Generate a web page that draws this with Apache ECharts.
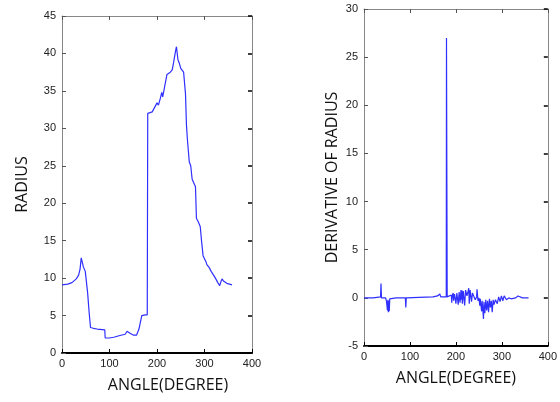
<!doctype html>
<html>
<head>
<meta charset="UTF-8">
<title>Radius and derivative</title>
<script src="https://cdn.jsdelivr.net/npm/echarts@6/dist/echarts.min.js"></script>
<style>
  html, body { margin: 0; padding: 0; background: #fff; }
  #main { width: 560px; height: 402px; }
</style>
</head>
<body>
<div id="main"></div>
<script>
// radius vs angle
var radiusData = [
  [0, 9.1], [12, 9.2], [21, 9.4], [30, 9.9], [35, 10.4], [38, 11.2], [40.5, 12.7],
  [45, 11.5], [49, 10.9], [52, 10.7], [54, 8], [57, 5.5], [60, 3.4], [66, 3.3],
  [74, 3.2], [90, 3.1], [91, 2.0], [100, 2.0], [109, 2.1], [120, 2.3], [133, 2.5],
  [137, 2.9], [144, 2.6], [150, 2.4], [157, 2.4], [162, 3.2], [168, 5.0], [175, 5.1],
  [179.5, 5.1], [180.5, 32], [190, 32.2], [195, 32.8], [198, 32.6], [200, 33.4],
  [203, 33.1], [207, 34.0], [210, 34.8], [212, 34.2], [215, 34.3], [218, 36.2],
  [221, 37.2], [224, 37.0], [228, 37.5], [232, 37.8], [235, 38.8], [239, 40.3],
  [241, 40.9], [244, 39.2], [247, 38.7], [250, 38.0], [253, 38.2], [256, 37.5],
  [260, 34.6], [262, 30.5], [264, 28.5], [268, 25.5], [271, 25.0], [274, 23.2],
  [277, 23.0], [281, 22.2], [283, 18.0], [287, 17.5], [291, 16.9], [294, 14.8],
  [297, 13.0], [300, 12.9], [303, 12.2], [305, 11.8], [307, 12.0], [310, 11.4],
  [314, 10.9], [319, 10.4], [323, 10.0], [328, 9.4], [332, 9.0], [335, 9.6],
  [337, 9.9], [340, 9.6], [347, 9.3], [358, 9.1]
];

// derivative of radius vs angle
var derivData = [
  [0, 0], [20, 0], [36, 0.1], [37, 1.5], [38, 0], [40, 0.1], [47, 0], [49, -0.4],
  [51, -1.3], [52, -0.2], [53, -1.5], [54, -0.3], [55, -1.4], [56, -0.1], [58, -0.1],
  [70, 0], [90, 0], [91, -1.0], [92, 0], [120, 0.05], [150, 0.1], [160, 0.2],
  [165, 0.4], [167, 0.1], [170, 0.2], [179, 0.1], [179.5, 27], [180.5, 27], [181, 0.1], [185, 0],
  [190, 0.3], [191, -0.5], [192, 0.2], [194, 0.5], [195, -0.3], [197, 0.4], [199, 0.6],
  [200, -0.6], [202, 0.5], [204, 0.7], [205, -0.7], [207, 0.6], [208, 0.7], [209, -0.5],
  [211, 0.8], [212, -0.2], [213, 0.8], [214, -0.6], [216, 0.7], [218, 0.9], [219, -0.8],
  [221, 0.8], [223, 0.9], [224, 0.2], [226, 0.6], [228, 1.0], [229, -0.6], [231, 0.8],
  [233, 1.0], [234, -0.4], [236, 0.5], [238, 0.3], [242, -0.2], [245, 0.1], [246, 0.9],
  [248, -0.3], [250, 0], [252, -0.8], [253, -0.1], [255, -1.0], [256, -1.4], [257, -0.3],
  [259, -1.5], [260, -2.2], [261, -0.4], [263, -1.6], [264, -1.8], [265, -0.2],
  [267, -1.3], [268, -1.5], [269, -0.3], [271, -1.5], [272, -1.7], [273, -0.1],
  [275, -1.0], [276, -1.2], [277, -0.3], [279, -1.5], [280, -1.7], [281, -0.2],
  [283, -0.7], [284, -0.9], [286, -0.2], [287, -0.4], [289, -0.1], [290, -0.6],
  [293, 0.1], [296, -0.4], [299, 0.2], [302, -0.3], [305, 0.2], [310, -0.2], [315, 0],
  [320, -0.1], [330, 0], [335, 0.2], [337, 0.4], [338, 0], [345, 0], [358, 0]
];

var xTicks = [0, 100, 200, 300, 400];

var lineColor = '#2f2fff';
var tickFont = { fontFamily: 'Liberation Sans', fontSize: 11, color: '#222' };
var nameFont = { fontFamily: 'Open Sans', fontSize: 16, color: '#111' };

var myChart = echarts.init(document.getElementById('main'));

function mainX(grid, shift) {
  return {
    gridIndex: grid, type: 'value', min: xTicks[0], max: xTicks[xTicks.length - 1], interval: 100,
    name: 'ANGLE(DEGREE)', nameLocation: 'middle', nameGap: 24,
    nameTextStyle: Object.assign({ padding: [0, 0, 0, shift] }, nameFont),
    axisLine: { onZero: false, lineStyle: { color: '#000', width: 2 } },
    axisTick: { inside: true, length: 4, lineStyle: { color: '#000' } },
    axisLabel: Object.assign({ margin: 5 }, tickFont),
    splitLine: { show: false }
  };
}
function boxX(grid) {
  return {
    gridIndex: grid, type: 'value', min: xTicks[0], max: xTicks[xTicks.length - 1], interval: 100, position: 'top',
    axisLine: { onZero: false, lineStyle: { color: '#888', width: 1 } },
    axisTick: { inside: true, length: 4, lineStyle: { color: '#555' } },
    axisLabel: { show: false }, splitLine: { show: false }
  };
}
function mainY(grid, min, max, name, gap) {
  return {
    gridIndex: grid, type: 'value', min: min, max: max, interval: 5,
    name: name, nameLocation: 'middle', nameGap: gap,
    nameTextStyle: nameFont,
    axisLine: { onZero: false, lineStyle: { color: '#888', width: 1 } },
    axisTick: { inside: true, length: 4, lineStyle: { color: '#555' } },
    axisLabel: Object.assign({ margin: 6 }, tickFont),
    splitLine: { show: false }
  };
}
function boxY(grid, min, max) {
  return {
    gridIndex: grid, type: 'value', min: min, max: max, interval: 5, position: 'right',
    axisLine: { onZero: false, lineStyle: { color: '#888', width: 1 } },
    axisTick: { inside: true, length: 4, lineStyle: { color: '#000', width: 1.5 } },
    axisLabel: { show: false }, splitLine: { show: false }
  };
}

var option = {
  animation: false,
  backgroundColor: '#fff',
  grid: [
    { left: 62, top: 16, width: 190, height: 337 },
    { left: 364, top: 9, width: 191, height: 337 }
  ],
  xAxis: [mainX(0, 22), boxX(0), mainX(1, 0), boxX(1)],
  yAxis: [
    mainY(0, 0, 45, 'RADIUS', 32),
    boxY(0, 0, 45),
    mainY(1, -5, 30, 'DERIVATIVE OF RADIUS', 24),
    boxY(1, -5, 30)
  ],
  series: [
    {
      type: 'line', xAxisIndex: 0, yAxisIndex: 0, data: radiusData,
      symbol: 'none', lineStyle: { color: lineColor, width: 1.2 }
    },
    {
      type: 'line', xAxisIndex: 2, yAxisIndex: 2, data: derivData,
      symbol: 'none', lineStyle: { color: lineColor, width: 1.2 }
    }
  ]
};

myChart.setOption(option);
</script>
</body>
</html>
